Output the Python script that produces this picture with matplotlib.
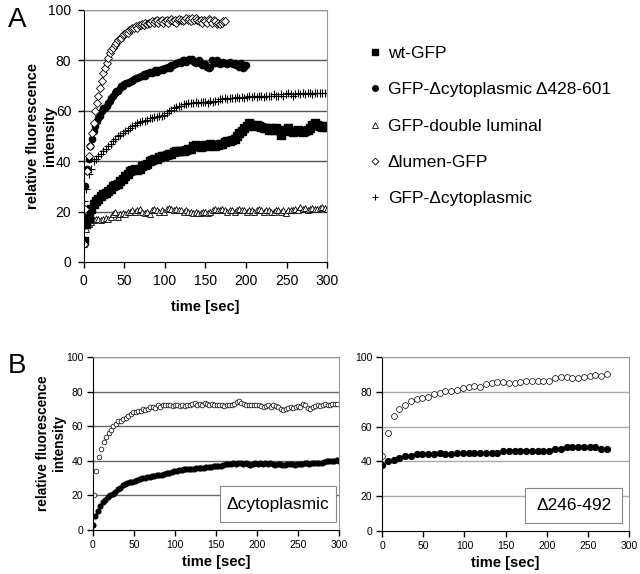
import matplotlib
matplotlib.use("Agg")
import matplotlib.pyplot as plt
from matplotlib.lines import Line2D
from matplotlib.patches import Rectangle
import numpy as np

plt.rcParams['font.family'] = ['Liberation Sans', 'DejaVu Sans']

# ---- panel A data ----
t_lumen = np.arange(0, 175, 2)
lumen = [7, 21, 36, 42, 46, 51, 55, 60, 63, 66,
         69, 72, 75, 77, 79, 81, 83, 84, 85, 86,
         87, 88, 88.5, 89, 90, 90.5, 91, 91, 92, 92.5,
         93, 93, 93.5, 93, 94, 94, 94.5, 94, 95, 94.5,
         95, 95, 95.5, 95, 95.5, 96, 95, 95.5, 96, 95,
         95.5, 96, 95, 96, 96.5, 95.5, 96, 95, 96, 96.5,
         96, 95.5, 96, 97, 96, 96.5, 95.5, 97, 96, 97,
         96, 95.5, 96, 95, 96, 95.5, 95, 96.5, 96, 95,
         96, 95.5, 94.5, 95, 94.5, 95, 95.5, 95.5]

t_d428 = np.arange(0, 201, 2)
d428 = [17, 30, 37, 41, 46, 49, 52, 54, 56, 57,
        58, 60, 61, 61, 62, 63, 64, 65, 66, 67,
        68, 68, 69, 70, 70, 70.5, 71, 71, 71.5, 72,
        72, 72.5, 73, 73, 73.5, 74, 74, 74.5, 74, 75,
        75, 75.5, 75, 75.5, 76, 75.5, 76, 76, 76.5, 76,
        77, 77, 77.5, 77, 78, 78, 78.5, 79, 79, 79.5,
        79, 80, 80, 79.5, 80, 80.5, 80, 80.5, 79.5, 79,
        79.5, 80, 79, 78, 78, 78.5, 77.5, 77, 77.5, 80,
        79.5, 79, 80, 79, 78.5, 79, 79.5, 79, 78.5, 79,
        79.5, 79, 78.5, 79, 78, 78, 77.5, 79, 77, 77.5,
        78]

t_long = np.arange(0, 301, 3)
dcyt = [24, 29, 35, 37, 40, 41, 42, 43, 44, 45,
        46, 47, 48, 49, 50, 50.5, 51, 52, 52.5, 53,
        54, 54.5, 55, 55.5, 56, 56, 56.5, 57, 57, 57.5,
        57.5, 58, 58, 58.5, 59, 60, 60.5, 61, 61.5, 62,
        62, 62.5, 62.5, 63, 63, 63, 63.5, 63, 63.5, 63.5,
        63.5, 63, 64, 63.5, 64, 64, 64.5, 64.5, 65, 64.5,
        65, 65, 65, 65.5, 65, 65.5, 65, 65.5, 66, 65.5,
        66, 65.5, 66, 66, 65.5, 66, 66, 66, 66.5, 66,
        66, 66.5, 66, 66.5, 67, 66.5, 66, 66.5, 67, 66.5,
        67, 66.5, 67, 67, 66.5, 67, 67, 67, 67, 67,
        67]
wt = [8.5, 15, 17.5, 21, 23, 24, 25, 26, 27, 27.5,
      28, 29, 30, 30.5, 31, 32, 33, 34, 35, 36,
      36.5, 37, 36.5, 37, 38, 38.5, 39, 40, 40.5, 41,
      41, 41.5, 42, 42, 42.5, 43, 43, 43.5, 44, 44,
      44, 44, 44.5, 45, 45, 46, 46.5, 46, 45.5, 46,
      46.5, 46, 47, 46.5, 46, 46.5, 47, 47, 47.5, 48,
      48, 48.5, 49, 50, 51, 52, 53, 54, 55, 54.5,
      54, 54.5, 54, 53.5, 53, 53, 52.5, 53, 52.5, 53,
      52.5, 50.5, 52, 52.5, 53, 52, 51.5, 52, 52.5, 52,
      51.5, 52, 52.5, 53, 54.5, 55, 54.5, 54, 53.5, 54,
      53.5]
dlum = [7, 13, 15, 16, 16.5, 17, 17, 16.5, 17, 17.5,
        17, 18, 19, 20, 18, 19, 19.5, 19, 20, 20,
        20.5, 20, 20.5, 21, 20, 19.5, 20, 19, 20.5, 21,
        20.5, 20, 20.5, 20, 21, 21.5, 21, 20.5, 21, 20.5,
        20.5, 20, 20.5, 20, 20, 19.5, 20, 19.5, 19.5, 20,
        20, 19.5, 20, 20.5, 21, 20.5, 20.5, 21, 20.5, 20,
        20.5, 20.5, 20, 20.5, 21, 20.5, 20.5, 20, 20.5, 20.5,
        20, 20.5, 21, 20.5, 20, 20.5, 20.5, 20, 20, 20.5,
        20.5, 20, 20.5, 19.5, 20.5, 20.5, 20.5, 21, 20.5, 22,
        21, 21.5, 20.5, 21, 21.5, 21, 21, 21.5, 22, 21.5,
        21]

# ---- panel B left data (Δcytoplasmic) ----
t_bl_open = np.arange(1, 300, 3)
bl_open = [20, 34, 42, 47, 51, 54, 56, 58, 60, 61,
           63, 63, 64, 65, 66, 67, 68, 68, 69, 69,
           70, 69.5, 70, 71, 71, 70.5, 72, 71, 72.5, 72,
           72, 72.5, 71.5, 72, 72.5, 71.5, 72, 71.5, 72, 72,
           73, 73.5, 72.5, 73, 72.5, 73.5, 73, 72.5, 73, 72,
           72.5, 72.5, 72, 71.5, 72, 72, 72.5, 73, 74, 74.5,
           73.5, 73, 72.5, 72, 72.5, 72, 72.5, 72, 71.5, 71,
           71.5, 72, 71, 72.5, 71.5, 71, 70, 69.5, 70, 70.5,
           71, 70.5, 71, 71.5, 71, 73, 72, 70.5, 70, 71,
           71.5, 72, 71.5, 72.5, 73, 72, 72.5, 73, 73, 73]
t_bl_fill = np.arange(0, 301, 3)
bl_fill = [3, 8, 11, 14, 16, 17.5, 19, 20, 21, 22,
           23.5, 24.5, 26, 26.5, 27, 27.5, 28, 28.5, 29, 29.5,
           30, 30, 30.5, 30.5, 31, 31, 31.5, 32, 32, 32.5,
           33, 33, 33.5, 34, 34, 34.5, 34.5, 35, 35, 35,
           35.5, 35.5, 36, 36, 36, 36, 36.5, 36.5, 36.5, 37,
           37, 37, 37, 37.5, 38, 38, 38, 38.5, 38, 38.5,
           38.5, 38, 38.5, 38, 37.5, 38, 38.5, 38, 38.5, 38,
           38.5, 38, 38.5, 38, 37.5, 38, 38, 37.5, 37.5, 38,
           38, 38, 37.5, 38, 38, 38, 38.5, 38.5, 38, 38.5,
           39, 39, 38.5, 39, 39.5, 40, 40, 40, 40, 40.5,
           40]

# ---- panel B right data (Δ246-492) ----
t_br = np.arange(0, 274, 7)
br_open = [43, 56.5, 66, 70, 72.5, 74.5, 76, 76.5, 77, 79,
           79.5, 80.5, 80.5, 81, 82, 82.5, 83.5, 83, 84.5, 85,
           85.5, 85.5, 85, 85, 85.5, 86, 86.5, 86.5, 86.5, 86,
           88, 88.5, 88.5, 88, 88, 88.5, 89, 89.5, 89, 90]
br_fill = [38, 40, 41, 42, 43, 43, 44, 44, 44, 44,
           45, 44, 44, 45, 45, 45, 45, 45, 45, 45,
           45, 46, 46, 46, 46, 46, 46, 46, 46, 46,
           47, 47, 48, 48, 48, 48, 48, 48, 47, 47]

legend_labels = ['wt-GFP', 'GFP-\u0394cytoplasmic \u0394428-601', 'GFP-double luminal',
                 '\u0394lumen-GFP', 'GFP-\u0394cytoplasmic']


def style_axes(ax, tick_fs, grid_color, pad):
    ax.set_xlim(0, 300)
    ax.set_ylim(0, 100)
    ax.set_xticks(range(0, 301, 50))
    ax.set_yticks(range(0, 101, 20))
    for y in range(20, 101, 20):
        ax.axhline(y, color=grid_color, lw=1.0, zorder=0)
    ax.spines['left'].set_color('black')
    ax.spines['bottom'].set_color('black')
    ax.spines['top'].set_color('#999999')
    ax.spines['right'].set_color('#999999')
    ax.tick_params(labelsize=tick_fs, length=4, width=1, direction='out', pad=pad)
    ax.tick_params(top=False, right=False)


fig = plt.figure(figsize=(6.4, 5.74), dpi=100)

# panel A
axA = fig.add_axes([0.131, 0.5436, 0.38, 0.439])
style_axes(axA, 10, '#555555', 5)
axA.plot(t_long, dlum, ls='none', marker='^', ms=4.5, mfc='white', mec='black', mew=0.6)
axA.plot(t_long, wt, ls='none', marker='s', ms=5.5, color='black')
axA.plot(t_long, dcyt, ls='none', marker='+', ms=6, color='black', mew=0.8)
axA.plot(t_d428, d428, ls='none', marker='o', ms=4.5, color='black')
axA.plot(t_lumen, lumen, ls='none', marker='D', ms=4, mfc='white', mec='black', mew=0.6)
axA.set_xlabel('time [sec]', fontsize=10.5, fontweight='bold', labelpad=8)
axA.set_ylabel('relative fluorescence\nintensity', fontsize=10.5, fontweight='bold', labelpad=-6)

handles = [
    Line2D([], [], ls='none', marker='s', ms=4.5, color='black'),
    Line2D([], [], ls='none', marker='o', ms=4, color='black'),
    Line2D([], [], ls='none', marker='^', ms=4, mfc='white', mec='black', mew=0.6),
    Line2D([], [], ls='none', marker='D', ms=3.5, mfc='white', mec='black', mew=0.6),
    Line2D([], [], ls='none', marker='+', ms=5, color='black', mew=0.8),
]
fig.legend(handles, legend_labels, loc='upper left', bbox_to_anchor=(0.565, 0.935),
           frameon=False, fontsize=12.5, handlelength=0.6, handletextpad=0.4,
           labelspacing=1.22, borderpad=0)

fig.text(0.012, 0.965, 'A', fontsize=20, va='center')
fig.text(0.012, 0.362, 'B', fontsize=20, va='center')

# panel B left
axBL = fig.add_axes([0.1453, 0.0767, 0.3844, 0.3014])
style_axes(axBL, 7.5, '#666666', 3)
axBL.plot(t_bl_open, bl_open, ls='none', marker='o', ms=3.4, mfc='white', mec='black', mew=0.5)
axBL.plot(t_bl_fill, bl_fill, ls='none', marker='o', ms=3.4, color='black')
axBL.set_xlabel('time [sec]', fontsize=10.5, fontweight='bold', labelpad=4)
axBL.set_ylabel('relative fluorescence\nintensity', fontsize=9.8, fontweight='bold', labelpad=0)
axBL.add_patch(Rectangle((0.516, 0.046), 0.47, 0.208, transform=axBL.transAxes,
                         fill=True, fc='white', ec='#888888', lw=0.8, zorder=5))
axBL.text(0.751, 0.15, '\u0394cytoplasmic', transform=axBL.transAxes, fontsize=12.5,
          ha='center', va='center', zorder=6)

# panel B right
axBR = fig.add_axes([0.597, 0.0749, 0.386, 0.3031])
style_axes(axBR, 7.5, '#aaaaaa', 3)
axBR.plot(t_br, br_open, ls='none', marker='o', ms=4.2, mfc='white', mec='black', mew=0.5)
axBR.plot(t_br, br_fill, ls='none', marker='o', ms=4.2, color='black')
axBR.set_xlabel('time [sec]', fontsize=10.5, fontweight='bold', labelpad=4)
axBR.add_patch(Rectangle((0.579, 0.046), 0.393, 0.201, transform=axBR.transAxes,
                         fill=True, fc='white', ec='#888888', lw=0.8, zorder=5))
axBR.text(0.7755, 0.146, '\u0394246-492', transform=axBR.transAxes, fontsize=12.5,
          ha='center', va='center', zorder=6)

fig.savefig('out.png', dpi=100)
